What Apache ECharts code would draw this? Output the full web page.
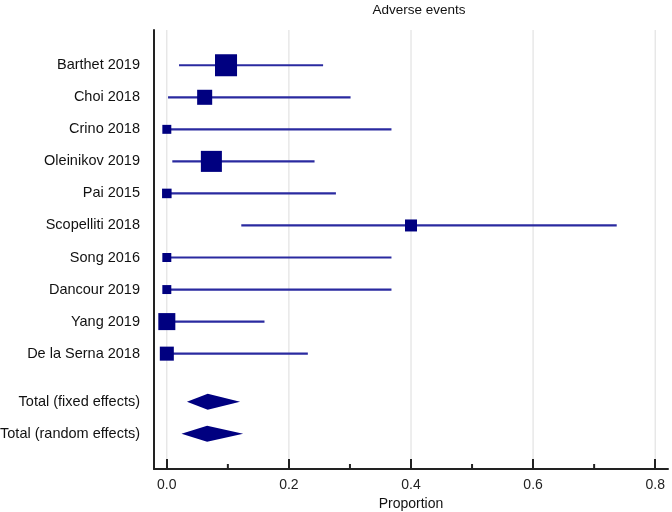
<!DOCTYPE html>
<html>
<head>
<meta charset="utf-8">
<script src="https://cdn.jsdelivr.net/npm/echarts@6/dist/echarts.min.js"></script>
<style>html,body{margin:0;padding:0;background:#fff}#c{width:672px;height:512px}</style>
</head>
<body>
<div id="c"></div>
<script>
// ---- data ----
var studies = ['Barthet 2019','Choi 2018','Crino 2018','Oleinikov 2019','Pai 2015','Scopelliti 2018','Song 2016','Dancour 2019','Yang 2019','De la Serna 2018'];
var estimates = [0.097, 0.062, 0.0, 0.073, 0.0, 0.40, 0.0, 0.0, 0.0, 0.0];
var lowerCI = [0.020, 0.002, 0.0, 0.009, 0.0, 0.122, 0.0, 0.0, 0.0, 0.0];
var upperCI = [0.256, 0.301, 0.368, 0.242, 0.277, 0.737, 0.368, 0.368, 0.160, 0.231];
var weights = [22.9, 10.7, 3.8, 20.9, 4.3, 6.8, 3.8, 3.8, 13.7, 9.3];
var totals = ['Total (fixed effects)', 'Total (random effects)'];
var totalEst = [0.067, 0.066];
var totalLower = [0.033, 0.024];
var totalUpper = [0.120, 0.125];
var xTicks = [0.0, 0.2, 0.4, 0.6, 0.8];
var xMinorTicks = [0.1, 0.3, 0.5, 0.7];

// row positions
var studyRows = studies.map(function (s, i) { return i; });
var totalRows = [10.5, 11.5];
var rowLabels = {};
studies.forEach(function (s, i) { rowLabels[studyRows[i]] = s; });
totals.forEach(function (s, i) { rowLabels[totalRows[i]] = s; });

var studyData = studies.map(function (s, i) {
  return [estimates[i], studyRows[i], lowerCI[i], upperCI[i], weights[i]];
});
var totalData = totals.map(function (s, i) {
  return [totalEst[i], totalRows[i], totalLower[i], totalUpper[i]];
});

var chart = echarts.init(document.getElementById('c'));
var font = 'Liberation Sans, Arial, sans-serif';

chart.setOption({
  animation: false,
  title: {
    text: 'Adverse events', left: 414, top: -2, textAlign: 'center',
    textStyle: { fontFamily: font, fontSize: 13.5, fontWeight: 'normal', color: '#111' }
  },
  grid: { left: 154, right: 4, top: 30, bottom: 43, containLabel: false, outerBoundsMode: 'none' },
  xAxis: {
    type: 'value', min: -0.021, max: 0.821,
    name: 'Proportion', nameLocation: 'middle', nameGap: 28,
    nameTextStyle: { fontFamily: font, fontSize: 14, color: '#111' },
    axisLine: { show: true, onZero: false, lineStyle: { color: '#222', width: 2 } },
    axisTick: { show: true, inside: true, length: 10, customValues: xTicks, lineStyle: { color: '#222', width: 2 } },
    minorTick: { show: false },
    axisLabel: { customValues: xTicks, formatter: function (v) { return v.toFixed(1); },
      fontFamily: font, fontSize: 14, color: '#222', margin: 9 },
    splitLine: { show: false }
  },
  yAxis: {
    type: 'value', inverse: true, min: -1.1, max: 12.6,
    axisLine: { show: true, onZero: false, lineStyle: { color: '#222', width: 2 } },
    axisTick: { show: false },
    axisLabel: {
      customValues: studyRows.concat(totalRows),
      formatter: function (v) { return rowLabels[v] || ''; },
      fontFamily: font, fontSize: 14.5, color: '#111', margin: 14
    },
    splitLine: { show: false }
  },
  series: [
    {
      // grid lines + minor ticks
      type: 'custom', silent: true, z: 0,
      data: [[0]],
      renderItem: function (params, api) {
        var children = [];
        xTicks.forEach(function (t) {
          var top = api.coord([t, -1.1]);
          var bot = api.coord([t, 12.6]);
          children.push({ type: 'line', shape: { x1: top[0], y1: top[1], x2: bot[0], y2: bot[1] - 1 },
            style: { stroke: '#dcdcdc', lineWidth: 1 } });
        });
        xMinorTicks.forEach(function (t) {
          var p = api.coord([t, 12.6]);
          children.push({ type: 'line', shape: { x1: p[0], y1: p[1] - 5, x2: p[0], y2: p[1] },
            style: { stroke: '#222', lineWidth: 2 } });
        });
        return { type: 'group', children: children };
      }
    },
    {
      type: 'custom', z: 2,
      data: studyData,
      encode: { x: 0, y: 1 },
      renderItem: function (params, api) {
        var est = api.value(0), row = api.value(1);
        var lo = api.coord([api.value(2), row]);
        var hi = api.coord([api.value(3), row]);
        var c = api.coord([est, row]);
        var size = Math.sqrt(api.value(4)) * 4.6;
        return {
          type: 'group',
          children: [
            { type: 'line', shape: { x1: lo[0], y1: lo[1], x2: hi[0], y2: hi[1] },
              style: { stroke: '#2a2aa0', lineWidth: 2.2 } },
            { type: 'rect', shape: { x: c[0] - size / 2, y: c[1] - size / 2, width: size, height: size },
              style: { fill: '#000080' } }
          ]
        };
      }
    },
    {
      type: 'custom', z: 2,
      data: totalData,
      encode: { x: 0, y: 1 },
      renderItem: function (params, api) {
        var row = api.value(1);
        var c = api.coord([api.value(0), row]);
        var lo = api.coord([api.value(2), row]);
        var hi = api.coord([api.value(3), row]);
        var h = 8;
        return {
          type: 'polygon',
          shape: { points: [[lo[0], lo[1]], [c[0], c[1] - h], [hi[0], hi[1]], [c[0], c[1] + h]] },
          style: { fill: '#000080' }
        };
      }
    }
  ]
});
</script>
</body>
</html>
